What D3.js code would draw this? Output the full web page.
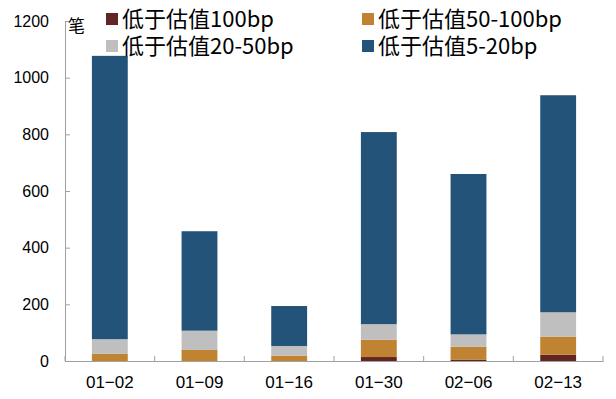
<!DOCTYPE html>
<html>
<head>
<meta charset="utf-8">
<script src="https://cdn.jsdelivr.net/npm/d3@7"></script>
<style>
  body { margin: 0; background: #fff; }
  text { font-family: "Liberation Sans", Arial, "Noto Sans CJK SC", sans-serif; fill: #000; }
  .cjk { font-family: "Noto Sans CJK SC", sans-serif; }
</style>
</head>
<body>
<div id="chart"></div>
<script>
// data
var categories = ["01\u221202", "01\u221209", "01\u221216", "01\u221230", "02\u221206", "02\u221213"];
var seriesNames = ["低于估值100bp", "低于估值50-100bp", "低于估值20-50bp", "低于估值5-20bp"];
var below100 = [0, 0, 0, 14, 5, 22];
var below50_100 = [25, 39, 19, 61, 45, 64];
var below20_50 = [52, 68, 34, 55, 44, 86];
var below5_20 = [1000, 351, 141, 678, 566, 766];
var yTicks = [0, 200, 400, 600, 800, 1000, 1200];
var colors = ["#632523", "#c08331", "#bfbfbf", "#245379"];

var width = 616;
var height = 399;
var plotLeft = 65, plotRight = 603, plotTop = 21, plotBottom = 361;

var svg = d3.select("#chart")
  .append("svg")
  .attr("width", width)
  .attr("height", height);

var rows = categories.map(function(c, i) {
  return { cat: c, s0: below100[i], s1: below50_100[i], s2: below20_50[i], s3: below5_20[i] };
});
var keys = ["s0", "s1", "s2", "s3"];
var stacked = d3.stack().keys(keys)(rows);

// scales
var x = d3.scaleBand()
  .domain(categories)
  .range([plotLeft, plotRight])
  .paddingInner(0.6)
  .paddingOuter(0.3);

var y = d3.scaleLinear()
  .domain([0, 1200])
  .range([plotBottom, plotTop]);

// bars
svg.selectAll("g.layer")
  .data(stacked)
  .enter()
  .append("g")
  .attr("class", "layer")
  .attr("fill", function(d, i) { return colors[i]; })
  .selectAll("rect")
  .data(function(d) { return d; })
  .enter()
  .append("rect")
  .attr("x", function(d) { return x(d.data.cat); })
  .attr("width", x.bandwidth())
  .attr("y", function(d) { return y(d[1]); })
  .attr("height", function(d) { return y(d[0]) - y(d[1]); });

// y axis
var yAxis = d3.axisLeft(y)
  .tickValues(yTicks)
  .tickFormat(d3.format("d"))
  .tickSizeInner(-5)
  .tickSizeOuter(0)
  .tickPadding(16);

var gy = svg.append("g")
  .attr("transform", "translate(" + plotLeft + ",0)")
  .call(yAxis);
gy.select(".domain").attr("stroke", "#a0a0a0");
gy.selectAll(".tick line").attr("stroke", "#a0a0a0");
gy.selectAll(".tick text").style("font-size", "16px").attr("fill", "#000");

// x axis
var xAxis = d3.axisBottom(x)
  .tickSize(0)
  .tickPadding(15);

var gx = svg.append("g")
  .attr("transform", "translate(0," + plotBottom + ")")
  .call(xAxis);
gx.select(".domain").attr("stroke", "#a0a0a0");
gx.selectAll(".tick text").style("font-size", "17px").attr("fill", "#000");

// tick marks between categories
gx.selectAll("line.sep")
  .data(d3.range(categories.length + 1))
  .enter()
  .append("line")
  .attr("class", "sep")
  .attr("x1", function(i) { return plotLeft + i * x.step(); })
  .attr("x2", function(i) { return plotLeft + i * x.step(); })
  .attr("y1", 0)
  .attr("y2", -5)
  .attr("stroke", "#a0a0a0");

// unit label
svg.append("text")
  .attr("class", "cjk")
  .attr("x", 68)
  .attr("y", 32)
  .style("font-size", "17px")
  .text("笔");

// legend
var legendPos = [[106, 13], [362, 13], [106, 40], [362, 40]];
var legend = svg.selectAll("g.legend")
  .data(seriesNames)
  .enter()
  .append("g")
  .attr("class", "legend")
  .attr("transform", function(d, i) {
    return "translate(" + legendPos[i][0] + "," + legendPos[i][1] + ")";
  });

legend.append("rect")
  .attr("width", 12)
  .attr("height", 12)
  .attr("fill", function(d, i) { return colors[i]; });

legend.append("text")
  .attr("class", "cjk")
  .attr("x", 16)
  .attr("y", 6)
  .attr("dy", "0.36em")
  .style("font-size", "22px")
  .text(function(d) { return d; });
</script>
</body>
</html>
